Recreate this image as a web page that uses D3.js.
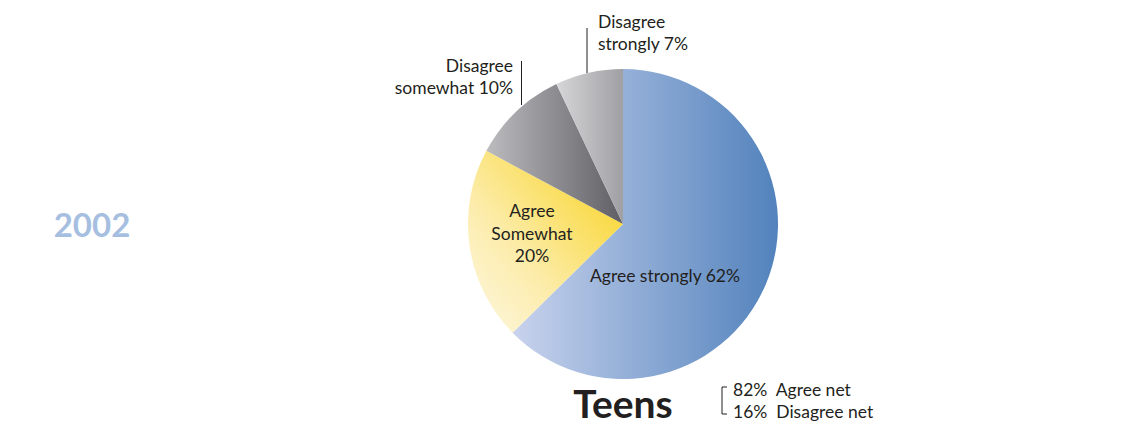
<!DOCTYPE html>
<html>
<head>
<meta charset="utf-8">
<script src="https://cdn.jsdelivr.net/npm/d3@7"></script>
<style>
  html, body { margin: 0; padding: 0; background: #fff; }
  svg { display: block; }
  text { font-family: "Lato", "Open Sans", sans-serif; fill: #231f20; white-space: pre; }
</style>
</head>
<body>
<svg id="chart" width="1128" height="433"></svg>
<script>
// Survey responses (percent of teens)
const categories = ["Agree strongly", "Agree Somewhat", "Disagree somewhat", "Disagree strongly"];
const values = [62, 20, 10, 7];
const netLabels = ["82%  Agree net", "16%  Disagree net"];
const yearLabel = "2002";
const groupLabel = "Teens";

const svg = d3.select("#chart");
const cx = 623, cy = 224, r = 155;

// Gradient fills in the pie group's coordinates (origin at the pie centre)
const defs = svg.append("defs");
function linGrad(id, x1, y1, x2, y2, stops) {
  const g = defs.append("linearGradient").attr("id", id)
    .attr("gradientUnits", "userSpaceOnUse")
    .attr("x1", x1).attr("y1", y1).attr("x2", x2).attr("y2", y2);
  stops.forEach(([o, c]) => g.append("stop").attr("offset", o).attr("stop-color", c));
}
linGrad("gBlue", -111, 0, 155, 0, [[0, "#c9d3ed"], [0.45, "#92aed7"], [1, "#5282bc"]]);
linGrad("gYellow", -145, 110, -5, -5, [[0, "#fdf7df"], [0.45, "#fcecaa"], [1, "#f9da45"]]);
linGrad("gGray", -138, 0, 0, 0, [[0, "#bdbdc0"], [0.6, "#848489"], [1, "#5e5e64"]]);
linGrad("gLight", -66, 0, 0, 0, [[0, "#d6d6d8"], [1, "#a0a0a4"]]);
const fills = ["url(#gBlue)", "url(#gYellow)", "url(#gGray)", "url(#gLight)"];

const pie = d3.pie().sort(null).value(d => d)(values);
const arc = d3.arc().innerRadius(0).outerRadius(r);

const g = svg.append("g").attr("transform", `translate(${cx},${cy})`);
g.selectAll("path").data(pie).join("path")
  .attr("d", arc)
  .attr("fill", (d, i) => fills[i]);

// In-slice labels
const fs = 17.5;
const inner = svg.append("g").attr("font-size", fs);
inner.append("text").attr("x", 665).attr("y", 282).attr("text-anchor", "middle")
  .text(`${categories[0]} ${values[0]}%`);
const ys = [["Agree", 217], ["Somewhat", 240], [`${values[1]}%`, 262]];
ys.forEach(([t, y]) => inner.append("text").attr("x", 532).attr("y", y)
  .attr("text-anchor", "middle").text(t));

// Outside labels with leader lines
const lineColor = "#231f20";
svg.append("line").attr("x1", 521.5).attr("x2", 521.5).attr("y1", 61).attr("y2", 105)
  .attr("stroke", lineColor).attr("stroke-width", 1);
svg.append("line").attr("x1", 587).attr("x2", 587).attr("y1", 28).attr("y2", 73)
  .attr("stroke", lineColor).attr("stroke-width", 1);

const out = svg.append("g").attr("font-size", fs);
out.append("text").attr("x", 513).attr("y", 72).attr("text-anchor", "end").text("Disagree");
out.append("text").attr("x", 513).attr("y", 94).attr("text-anchor", "end").text(`somewhat ${values[2]}%`);
out.append("text").attr("x", 598).attr("y", 28).text("Disagree");
out.append("text").attr("x", 598).attr("y", 50).text(`strongly ${values[3]}%`);

// Year
svg.append("text").attr("x", 92).attr("y", 237).attr("text-anchor", "middle")
  .attr("font-size", 33).attr("font-weight", 700).style("fill", "#a6bfe1")
  .text(yearLabel);

// Group title
svg.append("text").attr("x", 623).attr("y", 418).attr("text-anchor", "middle")
  .attr("font-size", 39).attr("font-weight", 700).style("fill", "#231f20")
  .text(groupLabel);

// Net totals with bracket
svg.append("path").attr("d", "M727,387 H722 V414 H727")
  .attr("fill", "none").attr("stroke", lineColor).attr("stroke-width", 1);
netLabels.forEach((t, i) => svg.append("text").attr("x", 733).attr("y", 396 + i * 22)
  .attr("font-size", fs).text(t));
</script>
</body>
</html>
